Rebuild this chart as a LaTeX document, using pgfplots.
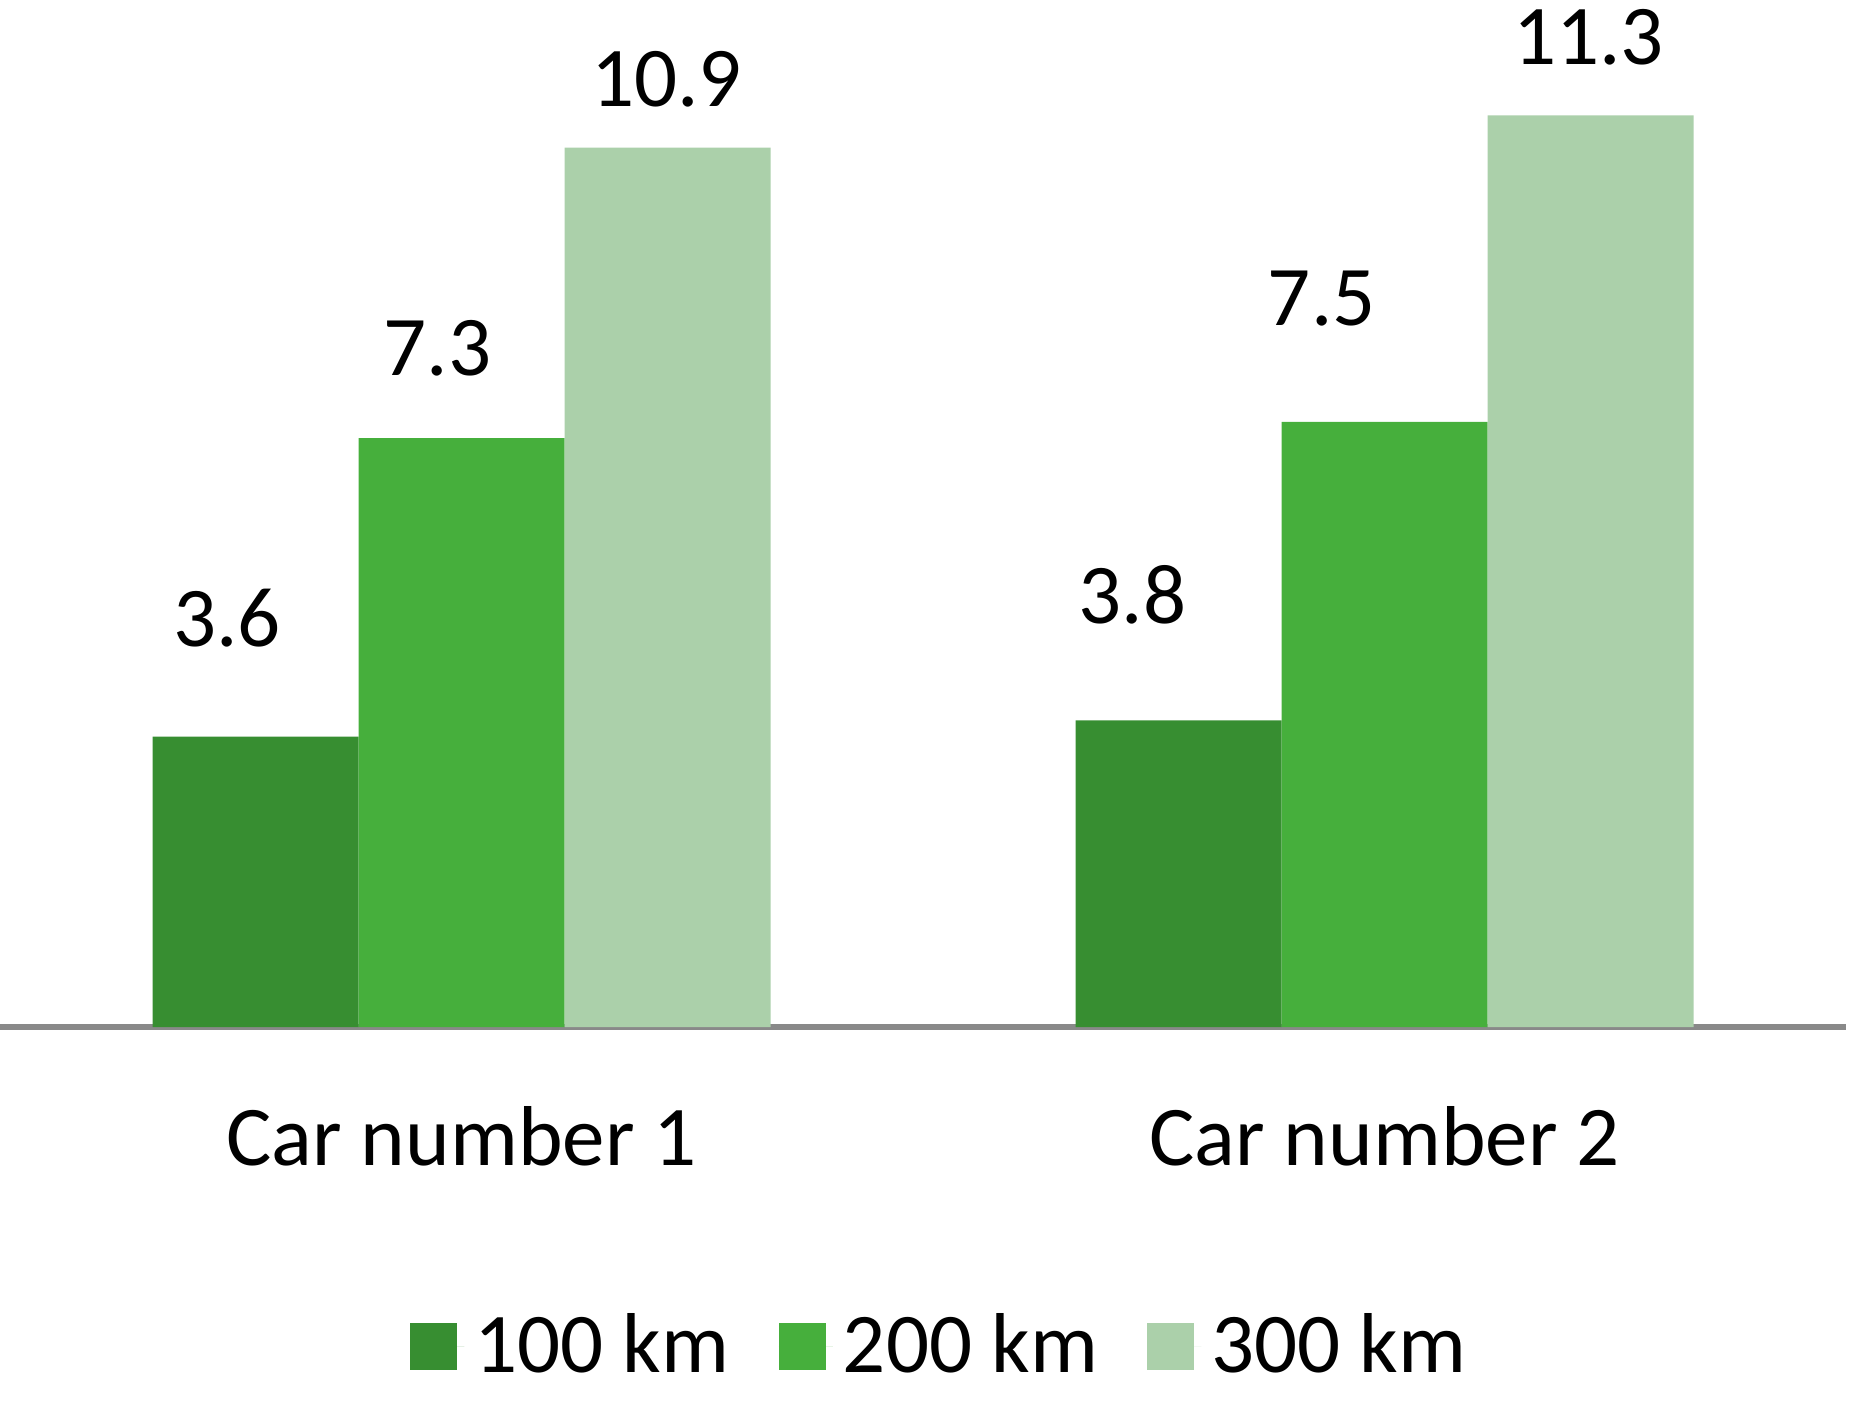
\documentclass[border=0pt]{standalone}
\usepackage{fontspec}
\setmainfont{Carlito}
\usepackage{pgfplots}
\pgfplotsset{compat=1.18}

\definecolor{kmA}{HTML}{378E31}
\definecolor{kmB}{HTML}{46AF3C}
\definecolor{kmC}{HTML}{ABD0AA}
\definecolor{axisgray}{HTML}{898989}
\newcommand\chartfont{\fontsize{17}{20.4}\selectfont}

\begin{document}
\begin{tikzpicture}
\begin{axis}[
    scale only axis,
    width=369.2pt, height=205.4pt,
    xmin=0.5, xmax=2.5, ymin=0, ymax=12.73,
    clip=false,
    axis y line=none,
    axis x line=bottom,
    x axis line style={-, line width=1.2pt, color=axisgray},
    xtick={1,2},
    xticklabels={Car number 1, Car number 2},
    major tick length=0pt,
    xticklabel style={anchor=base, yshift=-27.6pt, font=\chartfont},
    legend columns=3,
    legend style={at={(0.5111,-0.2583)}, anchor=north, draw=none, font=\chartfont,
        /tikz/every even column/.append style={column sep=7.9pt}},
    legend image code/.code={\path (0pt,0pt) -- (10.8pt,0pt);
        \fill[#1] (0pt,-4.7pt) rectangle (9.4pt,4.7pt);},
]
\addplot[ybar, bar width=41.2pt, bar shift=-41.2pt, draw=none, fill=kmA] coordinates {(1,3.6) (2,3.8)};
\addplot[ybar, bar width=41.2pt, bar shift=0pt, draw=none, fill=kmB] coordinates {(1,7.3) (2,7.5)};
\addplot[ybar, bar width=41.2pt, bar shift=41.2pt, draw=none, fill=kmC] coordinates {(1,10.9) (2,11.3)};
\legend{100 km, 200 km, 300 km}
% value labels, placed where the reference shows them
\addplot[forget plot, only marks, mark=*, mark size=0pt, mark options={draw=none, fill=none},
    point meta=explicit symbolic, nodes near coords,
    nodes near coords style={anchor=base, text=black, font=\chartfont, inner sep=0pt}]
    coordinates {(0.746,4.72)[3.6] (0.974,8.07)[7.3] (1.222,11.41)[10.9]
                 (1.727,5.00)[3.8] (1.932,8.70)[7.5] (2.221,11.93)[11.3]};
\coordinate (ll) at (rel axis cs:0,0);
\coordinate (ur) at (rel axis cs:1,1);
\end{axis}
\pgfresetboundingbox
\path ([yshift=-75.6pt]ll) rectangle ([xshift=1.8pt]ur);
\end{tikzpicture}
\end{document}
